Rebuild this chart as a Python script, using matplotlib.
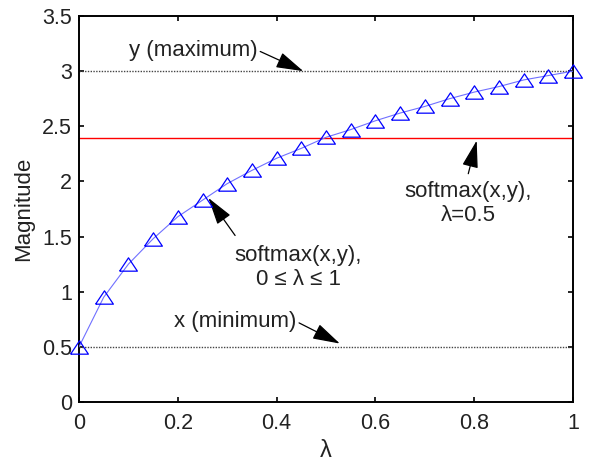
import numpy as np
import matplotlib
matplotlib.use("Agg")
import matplotlib.pyplot as plt

plt.rcParams['font.family'] = ['Liberation Sans', 'DejaVu Sans']

# ── Data ─────────────────────────────────────────────────────────────────────
lam = [0.0, 0.05, 0.1, 0.15, 0.2, 0.25, 0.3, 0.35, 0.4, 0.45, 0.5,
       0.55, 0.6, 0.65, 0.7, 0.75, 0.8, 0.85, 0.9, 0.95, 1.0]
softmax_vals = [0.50, 0.95, 1.25, 1.48, 1.68, 1.83, 1.98, 2.10, 2.21, 2.30, 2.40,
                2.47, 2.55, 2.62, 2.68, 2.75, 2.81, 2.86, 2.92, 2.96, 3.00]
y_max = 3.0
x_min = 0.5
softmax_half = 2.39

xticks = [0, 0.2, 0.4, 0.6, 0.8, 1]
xticklabels = ["0", "0.2", "0.4", "0.6", "0.8", "1"]
yticks = [0, 0.5, 1, 1.5, 2, 2.5, 3, 3.5]
yticklabels = ["0", "0.5", "1", "1.5", "2", "2.5", "3", "3.5"]

# ── Figure ───────────────────────────────────────────────────────────────────
fig = plt.figure(figsize=(5.93, 4.62), dpi=100)
ax = fig.add_axes([79 / 593, 60 / 462, 494 / 593, 386 / 462])

ax.axhline(y_max, color="#444444", ls=(0, (1, 1)), lw=1.0)
ax.axhline(x_min, color="#444444", ls=(0, (1, 1)), lw=1.0)
ax.axhline(softmax_half, color="red", lw=1.0)

tri = [(-1, -0.75), (1, -0.75), (0, 0.75), (-1, -0.75)]
ax.plot(lam, softmax_vals, color="#7070ff", lw=0.8, zorder=3)
ax.plot(lam, softmax_vals, ls="none", marker=tri, ms=12.8, mfc="none",
        mec="blue", mew=0.9, zorder=4, clip_on=False)

ax.set_xlim(0, 1)
ax.set_ylim(0, 3.5)
ax.set_xticks(xticks)
ax.set_xticklabels(xticklabels)
ax.set_yticks(yticks)
ax.set_yticklabels(yticklabels)
ax.tick_params(direction="in", top=True, right=True, length=3.6, width=1.2,
               labelsize=15.5, pad=5, labelcolor="#222222")
ax.tick_params(axis="x", pad=8)
for s in ax.spines.values():
    s.set_linewidth(1.4)

ax.set_xlabel("λ", fontsize=17, labelpad=4, color="#222222")
ax.set_ylabel("Magnitude", fontsize=16, labelpad=6, color="#222222")

# ── Annotations ──────────────────────────────────────────────────────────────
aprops = dict(arrowstyle="-|>,head_length=1.7,head_width=0.5",
              color="black", lw=0.9, shrinkA=0, shrinkB=0, mutation_scale=10)
ax.annotate("y (maximum)", xy=(0.454, 3.0), xytext=(0.231, 3.19),
            ha="center", va="center", fontsize=16, color="#222222",
            arrowprops=dict(aprops, relpos=(1.0, 0.5)))
ax.annotate("x (minimum)", xy=(0.528, 0.53), xytext=(0.316, 0.73),
            ha="center", va="center", fontsize=16, color="#222222",
            arrowprops=dict(aprops, relpos=(1.0, 0.5)))
ax.annotate("", xy=(0.805, 2.37), xytext=(0.788, 2.07), arrowprops=aprops)
ax.text(0.788, 1.80, "softmax(x,y),\nλ=0.5", ha="center", va="center",
        fontsize=16, linespacing=1.2, color="#222222")
ax.annotate("", xy=(0.262, 1.85), xytext=(0.316, 1.51), arrowprops=aprops)
ax.text(0.444, 1.22, "softmax(x,y),\n0 ≤ λ ≤ 1", ha="center", va="center",
        fontsize=16, linespacing=1.2, color="#222222")

plt.savefig("out.png", dpi=100)
plt.close()
